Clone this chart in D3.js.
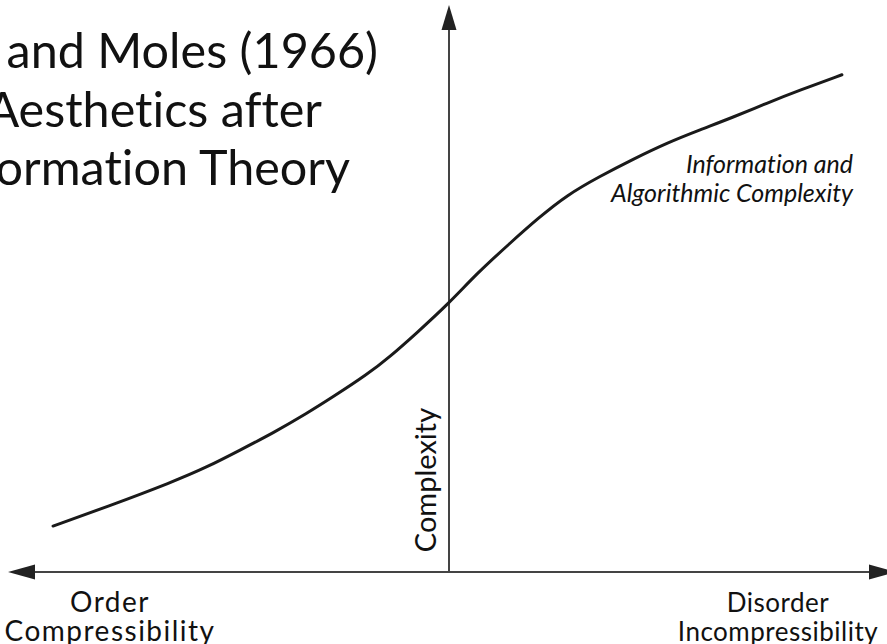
<!DOCTYPE html>
<html>
<head>
<meta charset="utf-8">
<script src="https://cdn.jsdelivr.net/npm/d3@7"></script>
<style>
  html, body { margin: 0; padding: 0; background: #fff; }
  svg { display: block; }
  text { font-variant-ligatures: none; font-feature-settings: "liga" 0, "clig" 0; }
</style>
</head>
<body>
<svg id="chart" width="887" height="644"></svg>
<script>
// Order (-1) to disorder (+1) on x; complexity (0..1) on y
const orderLevel = [-0.902, -0.779, -0.629, -0.551, -0.476, -0.401, -0.323, -0.264, -0.187, -0.134, -0.073, 0,
  0.064, 0.139, 0.203, 0.269, 0.344, 0.419, 0.497, 0.572, 0.647, 0.724, 0.800, 0.895];
const complexity = [0.081, 0.115, 0.159, 0.185, 0.215, 0.245, 0.280, 0.309, 0.348, 0.380, 0.422, 0.474,
  0.527, 0.580, 0.624, 0.665, 0.698, 0.728, 0.757, 0.780, 0.802, 0.827, 0.850, 0.877];

const titleLines = ["Bense and Moles (1966)", "Aesthetics after", "Information Theory"];
const curveLabel = ["Information and", "Algorithmic Complexity"];
const leftLabel = ["Order", "Compressibility"];
const rightLabel = ["Disorder", "Incompressibility"];
const yLabel = "Complexity";

const svg = d3.select("#chart");

const x = d3.scaleLinear().domain([-1, 1]).range([10, 888]);
const y = d3.scaleLinear().domain([0, 1]).range([572, 5]);

const axisColor = "#444";
const font = "Lato, 'Open Sans', sans-serif";

// horizontal axis with arrowheads at both ends
const xLeft = 8, xRight = 896, arrowLen = 27, arrowHalf = 7.5;
svg.append("line")
  .attr("x1", xLeft + 10).attr("x2", xRight - 10)
  .attr("y1", y(0)).attr("y2", y(0))
  .attr("stroke", axisColor).attr("stroke-width", 2);
svg.append("path")
  .attr("d", `M${xLeft},${y(0)}L${xLeft + arrowLen},${y(0) - arrowHalf}L${xLeft + arrowLen},${y(0) + arrowHalf}Z`)
  .attr("fill", "#222");
svg.append("path")
  .attr("d", `M${xRight},${y(0)}L${xRight - arrowLen},${y(0) - arrowHalf}L${xRight - arrowLen},${y(0) + arrowHalf}Z`)
  .attr("fill", "#222");

// vertical axis with arrowhead on top
svg.append("line")
  .attr("x1", x(0)).attr("x2", x(0))
  .attr("y1", y(0)).attr("y2", y(1) + 10)
  .attr("stroke", axisColor).attr("stroke-width", 2);
svg.append("path")
  .attr("d", `M${x(0)},${y(1)}L${x(0) - arrowHalf},${y(1) + 25}L${x(0) + arrowHalf},${y(1) + 25}Z`)
  .attr("fill", "#222");

// complexity curve
const pts = orderLevel.map((v, i) => [v, complexity[i]]);
const line = d3.line()
  .x(d => x(d[0]))
  .y(d => y(d[1]))
  .curve(d3.curveBasis);
svg.append("path")
  .datum(pts)
  .attr("d", line)
  .attr("fill", "none")
  .attr("stroke", "#1a1a1a")
  .attr("stroke-width", 3)
  .attr("stroke-linecap", "round");

// title, each line ending at its own right edge
const titleRight = [378, 322, 350];
svg.append("g")
  .selectAll("text")
  .data(titleLines)
  .join("text")
  .attr("x", (d, i) => titleRight[i])
  .attr("y", (d, i) => 68 + i * 58.5)
  .attr("text-anchor", "end")
  .attr("font-family", font)
  .attr("font-size", 48.5)
  .attr("fill", "#111")
  .text(d => d);

// curve label
svg.append("g")
  .selectAll("text")
  .data(curveLabel)
  .join("text")
  .attr("x", 853)
  .attr("y", (d, i) => 173 + i * 29)
  .attr("text-anchor", "end")
  .attr("font-family", font)
  .attr("font-style", "italic")
  .attr("font-size", 25)
  .attr("fill", "#111")
  .text(d => d);

// x-axis end labels
function endLabel(lines, cx, size, spacing) {
  svg.append("g")
    .selectAll("text")
    .data(lines)
    .join("text")
    .attr("x", cx)
    .attr("y", (d, i) => 612 + i * 29)
    .attr("text-anchor", "middle")
    .attr("font-family", font)
    .attr("font-size", size)
    .attr("letter-spacing", spacing)
    .attr("fill", "#111")
    .text(d => d);
}
endLabel(leftLabel, 110, 28, 1.5);
endLabel(rightLabel, 778, 26, 0.5);

// y-axis label
svg.append("text")
  .attr("transform", `translate(436, 480) rotate(-90)`)
  .attr("text-anchor", "middle")
  .attr("font-family", font)
  .attr("font-size", 29)
  .attr("fill", "#111")
  .text(yLabel);
</script>
</body>
</html>
